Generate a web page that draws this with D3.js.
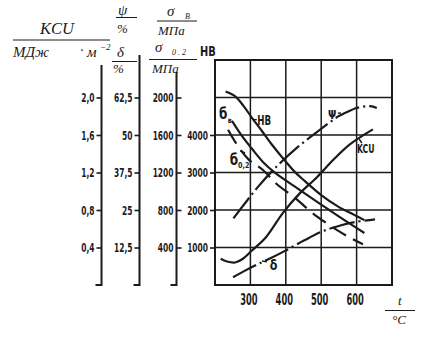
<!DOCTYPE html>
<html><head><meta charset="utf-8">
<script src="https://cdn.jsdelivr.net/npm/d3@7"></script>
<style>body{margin:0;background:#fff}svg{display:block}</style>
</head><body>
<svg id="c" width="427" height="343"></svg>
<script>
// tick values
const tempTicks = [300, 400, 500, 600];
const kcuTicks = [0.4, 0.8, 1.2, 1.6, 2.0];
const pctTicks = [12.5, 25, 37.5, 50, 62.5];
const mpaTicks = [400, 800, 1200, 1600, 2000];
const hbTicks = [1000, 2000, 3000, 4000];
const hbGrid = [1000, 2000, 3000, 4000, 5000];

// properties vs tempering temperature t, °C
const hbT = [230, 257, 281, 305, 333, 361, 398, 426, 454, 501, 548, 593, 622];
const hbV = [5160, 5030, 4770, 4450, 4100, 3740, 3310, 3010, 2770, 2390, 2090, 1870, 1730];
const sbT = [248, 276, 305, 336, 370, 435, 501, 558, 622];
const sbV = [1750, 1590, 1450, 1310, 1195, 1025, 855, 710, 555];
const s02T = [237, 259, 296, 333, 375, 426, 468, 511, 545, 581, 618];
const s02V = [1655, 1515, 1335, 1235, 1075, 930, 790, 670, 585, 505, 435];
const psiT = [252, 322, 370, 435, 497, 548, 567, 600, 638, 657];
const psiV = [22.2, 32.8, 39, 46.1, 51.8, 56.2, 57.3, 59, 59.6, 59];
const kcuT = [216, 234, 257, 279, 305, 344, 392, 440, 488, 533, 581, 646];
const kcuV = [0.28, 0.25, 0.24, 0.28, 0.37, 0.51, 0.77, 0.98, 1.15, 1.33, 1.50, 1.66];
const dT = [251, 285, 322, 355, 395, 451, 502, 559, 596, 652];
const dV = [2.6, 4.8, 7.0, 8.8, 11.2, 14.8, 17.8, 20.0, 21.0, 21.9];

const ink = "#1b1b1b";
const svg = d3.select("#c");
const L = 215, R = 392, T = 60, B = 285;

const x = d3.scaleLinear().domain([200, 700]).range([L, R]);
const yHB = d3.scaleLinear().domain([0, 6000]).range([B, T]);
const yMPa = d3.scaleLinear().domain([0, 2400]).range([B, T]);
const yPct = d3.scaleLinear().domain([0, 75]).range([B, T]);
const yKCU = d3.scaleLinear().domain([0, 2.4]).range([B, T]);

const comma = d => String(d).replace(".", ",");
const cond = "'DejaVu Sans', 'Liberation Sans', sans-serif";
const serif = "'Liberation Serif', 'DejaVu Serif', serif";

// narrow bold lettering
function ctext(sel, px, py, str, size, sx, anchor) {
  return sel.append("text")
    .attr("transform", `translate(${px},${py}) scale(${sx},1)`)
    .attr("text-anchor", anchor || "start")
    .style("font-family", cond).style("font-weight", "bold")
    .style("font-size", size + "px").attr("fill", ink).text(str);
}
function itext(px, py, str, size, anchor) {
  return svg.append("text").attr("x", px).attr("y", py)
    .attr("text-anchor", anchor || "start")
    .style("font-family", serif).style("font-style", "italic")
    .style("font-size", size + "px").attr("fill", ink).text(str);
}
function hline(x1, x2, y, w) {
  svg.append("line").attr("x1", x1).attr("x2", x2).attr("y1", y).attr("y2", y)
    .attr("stroke", ink).attr("stroke-width", w || 1);
}
function seg(x1, y1, x2, y2) {
  svg.append("line").attr("x1", x1).attr("x2", x2).attr("y1", y1).attr("y2", y2)
    .attr("stroke", ink).attr("stroke-width", 1.4);
}

// grid
const grid = svg.append("g").attr("stroke", ink).attr("stroke-width", 1.5);
grid.selectAll(".v").data(tempTicks).join("line")
  .attr("x1", d => x(d)).attr("x2", d => x(d)).attr("y1", T).attr("y2", B);
grid.selectAll(".h").data(hbGrid).join("line")
  .attr("x1", L).attr("x2", R).attr("y1", d => yHB(d)).attr("y2", d => yHB(d));
svg.append("rect").attr("x", L).attr("y", T).attr("width", R - L).attr("height", B - T)
  .attr("fill", "none").attr("stroke", ink).attr("stroke-width", 2);

// temperature labels
tempTicks.forEach(t => ctext(svg, x(t) - 1.5, 305, String(t), 16, 0.52, "middle"));

// vertical scales on the left
function vAxis(scale, ticks, fmt, ax, top, right) {
  const g = svg.append("g").attr("transform", `translate(${ax},0)`);
  const a = (right ? d3.axisRight(scale) : d3.axisLeft(scale))
    .tickValues(ticks).tickFormat("").tickSize(5).tickSizeOuter(0);
  g.call(a);
  g.select(".domain").remove();
  g.selectAll(".tick line").attr("stroke", ink).attr("stroke-width", 1.6);
  const off = right ? -3 : -7;
  g.selectAll(".tick").each(function (d) {
    ctext(d3.select(this), off, 4.2, fmt(d), 12.5, 0.6, "end");
  });
  if (top !== null) {
    g.append("path").attr("d", `M-6,${B}H0V${top}`).attr("fill", "none")
      .attr("stroke", ink).attr("stroke-width", 2);
  }
}
vAxis(yKCU, kcuTicks, d => comma(d.toFixed(1)), 101.5, 65, false);
vAxis(yPct, pctTicks, d => comma(d), 139.5, 55, false);
vAxis(yMPa, mpaTicks, d => String(d), 176.5, 72, true);
vAxis(yHB, hbTicks, d => String(d), L, null, false);

// axis captions
itext(40, 34, "KCU", 16.5);
hline(13, 110, 40, 1.2);
itext(13, 57, "МДж", 15);
itext(80, 55, "·", 14);
itext(87, 57, "м", 15);
itext(100, 50, "−2", 9);

itext(118, 15, "ψ", 15);
hline(116, 137, 17.5, 1);
itext(117, 33, "%", 13);
itext(117, 57, "δ", 15);
hline(112, 137, 61.5, 1);
itext(113, 73, "%", 13);

itext(167, 16, "σ", 15);
itext(185, 19, "B", 8);
hline(157, 197, 21, 1);
itext(158, 35, "МПа", 13);
itext(155, 52, "σ", 15);
itext(172, 55, "0 . 2", 8);
hline(149, 197, 59.5, 1);
itext(152, 73, "МПа", 13);
ctext(svg, 200, 56, "HB", 14.5, 0.68, "start");

itext(398, 305, "t", 13);
hline(385, 415, 310.5, 1);
itext(392, 324, "°C", 13);

// curves
const mk = (ts, vs, ys) => ts.map((t, i) => [x(t), ys(vs[i])]);
const line = d3.line().curve(d3.curveCatmullRom.alpha(0.5));
const series = [
  { pts: mk(hbT, hbV, yHB), dash: null },
  { pts: mk(sbT, sbV, yMPa), dash: null },
  { pts: mk(s02T, s02V, yMPa), dash: "16,8" },
  { pts: mk(psiT, psiV, yPct), dash: "26,4,2,4" },
  { pts: mk(kcuT, kcuV, yKCU), dash: null },
  { pts: mk(dT, dV, yPct), dash: "26,4,2,4" }
];
svg.append("g").selectAll("path").data(series).join("path")
  .attr("d", d => line(d.pts)).attr("fill", "none").attr("stroke", ink)
  .attr("stroke-width", 2.2).attr("stroke-dasharray", d => d.dash);

// curve names
ctext(svg, x(211), yHB(4430), "б", 15, 0.8, "start");
ctext(svg, x(236), yHB(4330), "в", 8, 0.8, "start");
seg(x(309), yHB(4410), x(318), yHB(4410));
ctext(svg, x(319), yHB(4270), "HB", 14, 0.62, "start");
ctext(svg, x(242), yMPa(1280), "б", 15, 0.8, "start");
ctext(svg, x(265), yMPa(1250), "0,2", 8, 0.8, "start");
seg(x(271), yMPa(1430), x(285), yMPa(1408));
ctext(svg, x(519), yPct(55.3), "Ψ", 13, 0.75, "start");
seg(x(547), yPct(57.3), x(556), yPct(57.3));
ctext(svg, x(601), yKCU(1.413), "KCU", 12.5, 0.62, "start");
seg(x(607), yKCU(1.557), x(615), yKCU(1.515));
ctext(svg, x(355), yPct(5), "δ", 14, 0.8, "start");
seg(x(333), yPct(8), x(347), yPct(7.7));
</script>
</body></html>
